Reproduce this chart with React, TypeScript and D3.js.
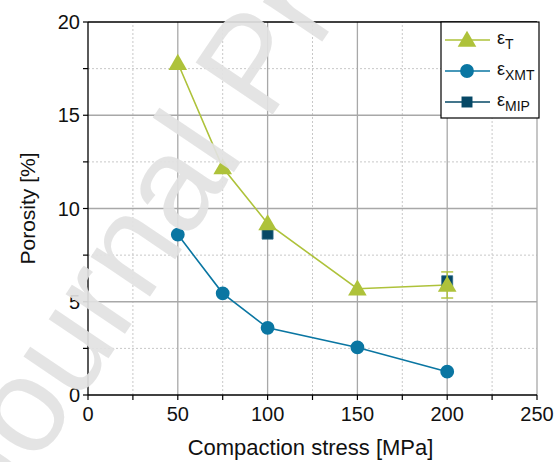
import React from "react";
import * as d3 from "d3";

const stressT = [50, 75, 100, 150, 200];
const epsT = [17.8, 12.2, 9.2, 5.7, 5.9];
const stressX = [50, 75, 100, 150, 200];
const epsX = [8.6, 5.45, 3.6, 2.55, 1.25];
const stressM = [100, 200];
const epsM = [8.65, 6.1];
const errT200 = [5.2, 6.6];
const xTicks = [0, 50, 100, 150, 200, 250];
const yTicks = [0, 5, 10, 15, 20];
const xMinor = [25, 75, 125, 175, 225];
const yMinor = [2.5, 7.5, 12.5, 17.5];

const GREEN = "#aec23a";
const BLUE = "#0a76a2";
const NAVY = "#064866";

export default function App() {
  const W = 554, H = 462;
  const m = { l: 88, r: 17, t: 22, b: 67 };
  const x = d3.scaleLinear().domain([0, 250]).range([m.l, W - m.r]);
  const y = d3.scaleLinear().domain([0, 20]).range([H - m.b, m.t]);
  const line = d3.line<number>();
  const lineT = d3.line<[number, number]>().x(d => x(d[0])).y(d => y(d[1]));
  const tri = d3.symbol().type(d3.symbolTriangle).size(150)()!;
  const circ = d3.symbol().type(d3.symbolCircle).size(150)()!;
  const sq = d3.symbol().type(d3.symbolSquare).size(120)()!;
  const font = "'Liberation Sans', Arial, sans-serif";
  const ptsT = stressT.map((s, i) => [s, epsT[i]] as [number, number]);
  const ptsX = stressX.map((s, i) => [s, epsX[i]] as [number, number]);
  const legend = [
    { c: GREEN, p: tri, sub: "T" },
    { c: BLUE, p: circ, sub: "XMT" },
    { c: NAVY, p: sq, sub: "MIP" },
  ];
  return (
    <svg width={W} height={H} style={{ position: "absolute", left: 0, top: 0, background: "#fff" }}>
      {xMinor.map(v => <line key={"xm" + v} x1={x(v)} x2={x(v)} y1={y(0)} y2={y(20)} stroke="#c8c8c8" strokeDasharray="2,2" strokeWidth={1} />)}
      {yMinor.map(v => <line key={"ym" + v} x1={x(0)} x2={x(250)} y1={y(v)} y2={y(v)} stroke="#c8c8c8" strokeDasharray="2,2" strokeWidth={1} />)}
      {xTicks.slice(1).map(v => <line key={"xg" + v} x1={x(v)} x2={x(v)} y1={y(0)} y2={y(20)} stroke="#a8a8a8" strokeWidth={1.3} />)}
      {yTicks.slice(1, -1).map(v => <line key={"yg" + v} x1={x(0)} x2={x(250)} y1={y(v)} y2={y(v)} stroke="#a8a8a8" strokeWidth={1.3} />)}
      <line x1={x(0)} x2={x(250)} y1={y(20)} y2={y(20)} stroke="#000" strokeWidth={1.3} />
      <path d={lineT(ptsT)!} fill="none" stroke={GREEN} strokeWidth={1.6} />
      <path d={lineT(ptsX)!} fill="none" stroke={BLUE} strokeWidth={1.6} />
      {stressM.map((s, i) => <path key={"m" + s} d={sq} transform={`translate(${x(s)},${y(epsM[i])})`} fill={NAVY} stroke="#2a6a88" strokeWidth={0.8} />)}
      <line x1={x(200)} x2={x(200)} y1={y(errT200[0])} y2={y(errT200[1])} stroke={GREEN} strokeWidth={1.4} />
      {errT200.map(v => <line key={"e" + v} x1={x(200) - 6} x2={x(200) + 6} y1={y(v)} y2={y(v)} stroke={GREEN} strokeWidth={1.4} />)}
      {ptsX.map(([s, v]) => <path key={"x" + s} d={circ} transform={`translate(${x(s)},${y(v)})`} fill={BLUE} />)}
      {ptsT.map(([s, v]) => <path key={"t" + s} d={tri} transform={`translate(${x(s)},${y(v) + 1.5})`} fill={GREEN} />)}
      <line x1={x(0)} x2={x(0)} y1={y(0)} y2={y(20)} stroke="#000" strokeWidth={1.3} />
      <line x1={x(0)} x2={x(250)} y1={y(0)} y2={y(0)} stroke="#000" strokeWidth={1.3} />
      {xTicks.concat(xMinor).map(v => <line key={"xt" + v} x1={x(v)} x2={x(v)} y1={y(0)} y2={y(0) + 5} stroke="#000" strokeWidth={1.2} />)}
      {yTicks.concat(yMinor).map(v => <line key={"yt" + v} x1={x(0) - 5} x2={x(0)} y1={y(v)} y2={y(v)} stroke="#000" strokeWidth={1.2} />)}
      {xTicks.map(v => <text key={"xl" + v} x={x(v)} y={y(0) + 26} textAnchor="middle" fontFamily={font} fontSize={20} fill="#111">{v}</text>)}
      {yTicks.map(v => <text key={"yl" + v} x={x(0) - 8} y={y(v) + 7} textAnchor="end" fontFamily={font} fontSize={20} fill="#111">{v}</text>)}
      <text x={(x(0) + x(250)) / 2 - 2} y={455} textAnchor="middle" fontFamily={font} fontSize={22} fill="#111">Compaction stress [MPa]</text>
      <text transform={`translate(35,${(y(0) + y(20)) / 2}) rotate(-90)`} textAnchor="middle" fontFamily={font} fontSize={21} fill="#111">Porosity [%]</text>
      <rect x={441} y={22} width={98} height={96} fill="#fff" stroke="#000" strokeWidth={1.2} />
      {legend.map((e, i) => {
        const cy = 40 + i * 31;
        return (
          <g key={"lg" + i}>
            <path d={line([[445, cy], [490, cy]])!} stroke={e.c} strokeWidth={1.6} />
            <path d={e.p} transform={`translate(467,${cy + (i === 0 ? 1.5 : 0)})`} fill={e.c} />
            <text x={497} y={cy + 4} fontFamily={font} fontSize={18} fill="#111">ε<tspan fontSize={14} dy={5}>{e.sub}</tspan></text>
          </g>
        );
      })}
      <text x={0} y={0} transform="translate(-2,522) rotate(-56)" fontFamily={font} fontSize={135} fill="#e2e2e2" fillOpacity={0.92}>Journal Pre-proof</text>
    </svg>
  );
}
